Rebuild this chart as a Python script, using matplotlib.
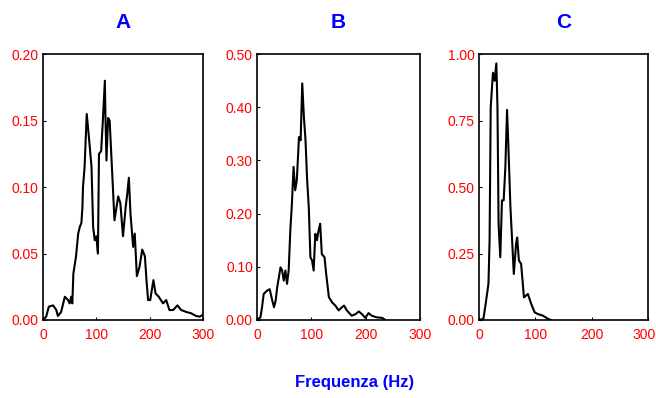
import matplotlib
matplotlib.use("Agg")
import matplotlib.pyplot as plt
import matplotlib.transforms as mtrans

# ---------------------------------------------------------------------------
# Dati (frequenza in Hz, ampiezza)
# ---------------------------------------------------------------------------
freq_a = [0, 6, 11, 19, 25, 28, 34, 41, 47, 50, 53, 55, 57, 62, 66, 69, 72, 74,
          75, 78, 82, 86, 91, 94, 97, 100, 103, 105, 109, 112, 116, 117, 119,
          122, 125, 131, 134, 141, 145, 150, 155, 158, 161, 164, 169, 172, 176,
          181, 186, 191, 194, 197, 201, 207, 211, 217, 225, 231, 237, 244, 252,
          259, 269, 278, 287, 294, 300]
amp_a = [0.0, 0.0025, 0.010, 0.011, 0.0075, 0.003, 0.006, 0.0175, 0.015, 0.0125,
         0.0175, 0.0125, 0.035, 0.048, 0.065, 0.070, 0.073, 0.085, 0.100, 0.115,
         0.155, 0.138, 0.115, 0.070, 0.060, 0.063, 0.050, 0.125, 0.127, 0.148,
         0.180, 0.155, 0.120, 0.152, 0.150, 0.100, 0.075, 0.093, 0.088, 0.063,
         0.085, 0.095, 0.107, 0.080, 0.055, 0.065, 0.033, 0.040, 0.053, 0.048,
         0.030, 0.015, 0.015, 0.030, 0.020, 0.0175, 0.0125, 0.015, 0.0075,
         0.0075, 0.011, 0.0075, 0.006, 0.005, 0.003, 0.0025, 0.004]

freq_b = [0, 6, 9, 12, 18, 23, 28, 31, 34, 37, 43, 46, 49, 52, 55, 58, 61, 64,
          67, 70, 73, 77, 80, 83, 86, 89, 92, 95, 98, 101, 104, 107, 110, 113,
          116, 119, 124, 127, 132, 138, 144, 150, 156, 160, 165, 174, 181, 187,
          193, 199, 205, 211, 220, 230, 236]
amp_b = [0.0, 0.005, 0.024, 0.049, 0.055, 0.058, 0.036, 0.024, 0.036, 0.062,
         0.099, 0.093, 0.074, 0.093, 0.068, 0.093, 0.168, 0.219, 0.288, 0.244,
         0.263, 0.344, 0.338, 0.445, 0.382, 0.338, 0.263, 0.212, 0.118, 0.112,
         0.093, 0.162, 0.150, 0.168, 0.181, 0.124, 0.118, 0.087, 0.043, 0.033,
         0.027, 0.018, 0.024, 0.027, 0.018, 0.008, 0.011, 0.016, 0.011, 0.004,
         0.013, 0.008, 0.005, 0.004, 0.0]

freq_c = [0, 8, 12, 17, 19, 21, 25, 28, 31, 33, 35, 38, 41, 44, 47, 50, 52, 56,
          59, 62, 66, 68, 71, 75, 80, 87, 93, 99, 104, 114, 123, 128]
amp_c = [0.0, 0.004, 0.06, 0.136, 0.30, 0.80, 0.93, 0.90, 0.965, 0.80, 0.36,
         0.236, 0.45, 0.45, 0.575, 0.79, 0.676, 0.425, 0.30, 0.173, 0.286, 0.31,
         0.224, 0.211, 0.085, 0.098, 0.06, 0.029, 0.023, 0.016, 0.004, 0.0]

titoli = ["A", "B", "C"]
y_max = [0.20, 0.50, 1.00]
y_ticks = [[0.00, 0.05, 0.10, 0.15, 0.20],
           [0.00, 0.10, 0.20, 0.30, 0.40, 0.50],
           [0.00, 0.25, 0.50, 0.75, 1.00]]
x_ticks = [0, 100, 200, 300]

# posizioni dei pannelli [left, bottom, width, height] in coordinate figura
pannelli = [[0.0655, 0.196, 0.244, 0.668],
            [0.392, 0.196, 0.2485, 0.668],
            [0.730, 0.196, 0.2576, 0.668]]

FONT = ["Liberation Sans", "DejaVu Sans"]

fig = plt.figure(figsize=(6.56, 3.98), dpi=100)
serie = [(freq_a, amp_a), (freq_b, amp_b), (freq_c, amp_c)]

for k, (f, a) in enumerate(serie):
    ax = fig.add_axes(pannelli[k])
    ax.plot(f, a, color="black", linewidth=1.5)
    ax.set_xlim(0, 300)
    ax.set_ylim(0, y_max[k])
    ax.set_xticks(x_ticks)
    ax.set_yticks(y_ticks[k])
    ax.set_yticklabels([f"{v:.2f}" for v in y_ticks[k]])
    ax.tick_params(direction="in", length=2.2, width=0.8, labelcolor="red",
                   labelsize=10, pad=3)
    ax.tick_params(axis="x", pad=6)
    for lab in ax.get_xticklabels() + ax.get_yticklabels():
        lab.set_family(FONT)
    for sp in ax.spines.values():
        sp.set_linewidth(1.2)
    ax.set_title(titoli[k], color="blue", fontsize=15, fontweight="bold",
                 family=FONT, pad=18.5)

# l'ultimo "300" del pannello C sta sul bordo: spostato un poco a sinistra
ultimo = ax.get_xticklabels()[-1]
ultimo.set_transform(ultimo.get_transform() +
                     mtrans.ScaledTranslation(-3 / 72, 0, fig.dpi_scale_trans))

fig.text(0.54, 0.038, "Frequenza (Hz)", color="blue", fontsize=12,
         fontweight="bold", family=FONT, ha="center", va="center")

fig.savefig("out.png", dpi=100, facecolor="white")
